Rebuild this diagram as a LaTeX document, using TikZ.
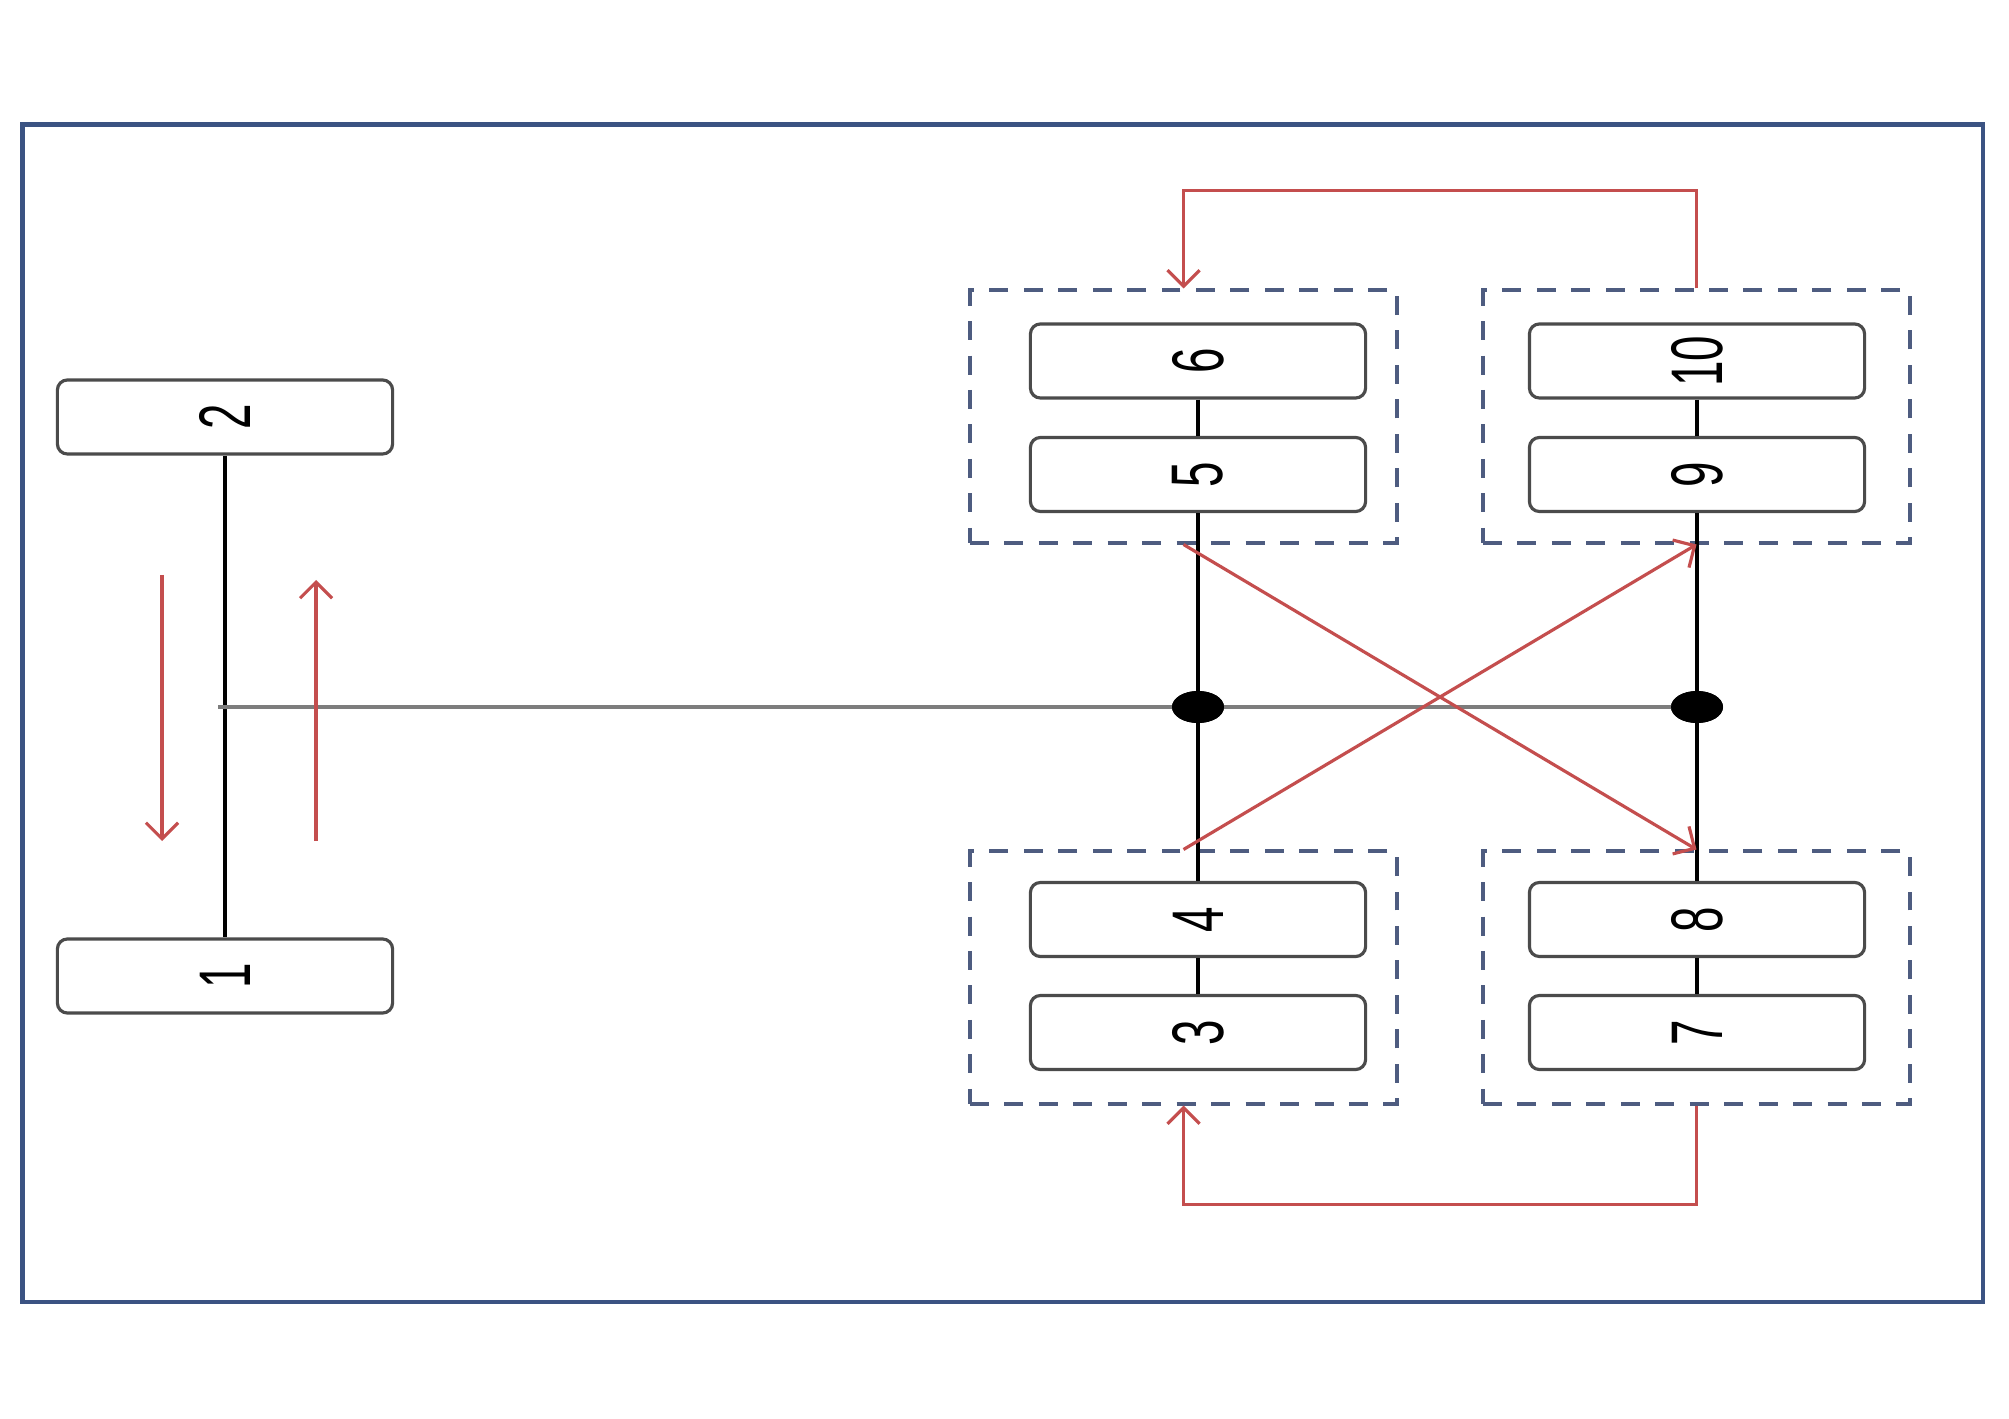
\documentclass[tikz,border=0pt]{standalone}
\usepackage{fontspec}
\setmainfont{Liberation Sans}
\usetikzlibrary{arrows.meta,shapes.geometric}
\definecolor{frameblue}{RGB}{59,83,130}
\definecolor{groupblue}{RGB}{78,92,128}
\definecolor{boxgray}{RGB}{75,75,75}
\definecolor{axlegray}{RGB}{125,125,125}
\definecolor{flowred}{RGB}{196,78,78}
\newcommand{\lbl}[1]{\scalebox{1.6}[1]{\rotatebox{90}{#1}}}
\tikzset{
  outer/.style={draw=frameblue,line width=1.4pt},
  unit/.style={draw=boxgray,line width=0.9pt,rounded corners=0.1cm,minimum width=3.35cm,minimum height=0.74cm,inner sep=0pt,font=\fontsize{13}{14}\selectfont},
  group/.style={draw=groupblue,line width=1.1pt,dash pattern=on 5.4pt off 4.4pt,minimum width=4.27cm,minimum height=2.52cm,inner sep=0pt},
  shaft/.style={black,line width=1.1pt},
  axle/.style={axlegray,line width=1.2pt},
  flow/.style={flowred,line width=0.9pt,-{Straight Barb[length=1.6mm,width=3.2mm]}},
  hubdot/.style={ellipse,fill=black,minimum width=0.52cm,minimum height=0.32cm,inner sep=0pt},
}
\begin{document}
\begin{tikzpicture}[x=0.01cm,y=-0.01cm]
\useasboundingbox (0,0) rectangle (2009,1419);
%\draw[step=100,gray,very thin] (0,0) grid (2009,1419);
\draw[outer] (22.5,124.5) rectangle (1983,1302);
% dashed groups
\node[group] (g56)  at (1183.5,416.5) {};
\node[group] (g910) at (1696.5,416.5) {};
\node[group] (g34)  at (1183.5,977.5) {};
\node[group] (g78)  at (1696.5,977.5) {};
% units
\node[unit] (b2)  at (225,417)    {\lbl{2}};
\node[unit] (b1)  at (225,976)    {\lbl{1}};
\node[unit] (b6)  at (1198,361)   {\lbl{6}};
\node[unit] (b5)  at (1198,474.5) {\lbl{5}};
\node[unit] (b4)  at (1198,919.5) {\lbl{4}};
\node[unit] (b3)  at (1198,1032.5){\lbl{3}};
\node[unit] (b10) at (1697,361)   {\lbl{10}};
\node[unit] (b9)  at (1697,474.5) {\lbl{9}};
\node[unit] (b8)  at (1697,919.5) {\lbl{8}};
\node[unit] (b7)  at (1697,1032.5){\lbl{7}};
% shafts
\coordinate (hub) at (218,707);
\node[hubdot] (d1) at (1198,707) {};
\node[hubdot] (d2) at (1697,707) {};
\draw[shaft] (b2) -- (b1);
\draw[axle] (hub) -- (d2.center);
\draw[shaft] (b6) -- (b5);
\draw[shaft] (b5) -- (b4);
\draw[shaft] (b4) -- (b3);
\draw[shaft] (b10) -- (b9);
\draw[shaft] (b9) -- (b8);
\draw[shaft] (b8) -- (b7);
\node[hubdot] at (d1) {};
\node[hubdot] at (d2) {};
% flows
\coordinate (dnA) at (162,575);
\coordinate (dnB) at (162,841);
\coordinate (upA) at (316,841);
\coordinate (upB) at (316,580);
\draw[flow] (dnA) -- (dnB);
\draw[flow] (upA) -- (upB);
\draw[flow] (g910.north) -- ++(0,-98) -| (g56.north);
\draw[flow] (g78.south) -- ++(0,99) -| (g34.south);
\draw[flow] (g56.south) -- (g78.north);
\draw[flow] (g34.north) -- (g910.south);
\end{tikzpicture}
\end{document}
